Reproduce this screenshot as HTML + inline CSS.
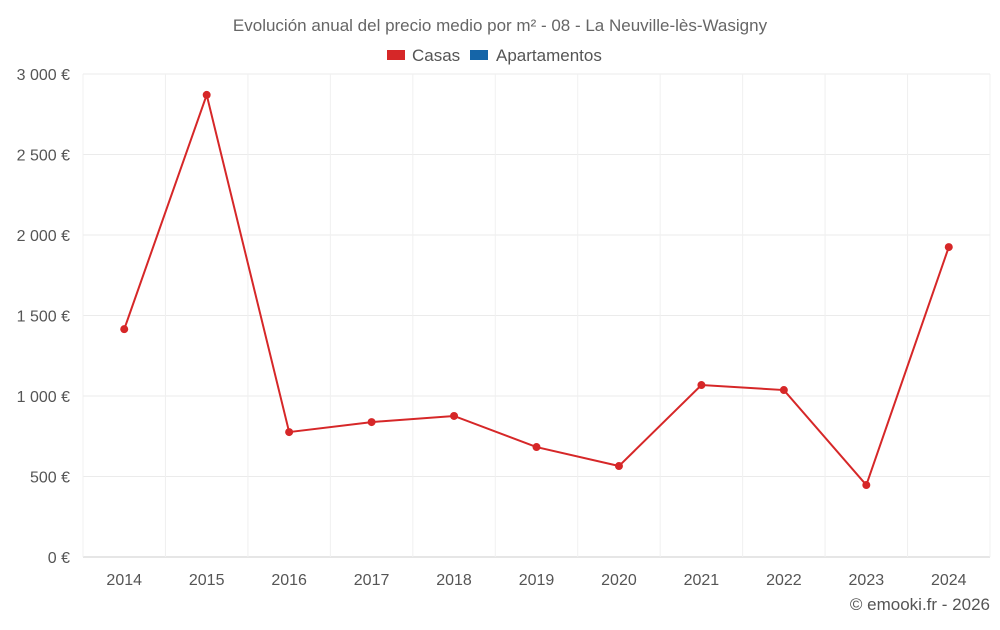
<!DOCTYPE html>
<html><head><meta charset="utf-8"><style>
body{margin:0;background:#fff;font-family:"Liberation Sans",sans-serif}
svg text{font-family:"Liberation Sans",sans-serif}
</style></head><body>
<svg id="chart" width="1000" height="625">
<text x="500" y="31" text-anchor="middle" font-size="17" fill="#666">Evolución anual del precio medio por m² - 08 - La Neuville-lès-Wasigny</text>
<g><rect x="387" y="50" width="18" height="10" fill="#d62728"/><text x="412" y="61" font-size="17" fill="#555">Casas</text></g>
<g><rect x="470" y="50" width="18" height="10" fill="#1565a8"/><text x="496" y="61" font-size="17" fill="#555">Apartamentos</text></g>
<text x="990" y="610" text-anchor="end" font-size="17" fill="#555">© emooki.fr - 2026</text>
<g id="grid"></g><g id="marks"></g>
</svg>
<script>
const categories=["2014","2015","2016","2017","2018","2019","2020","2021","2022","2023","2024"];
const casas=[1415,2870,776,838,876,683,565,1068,1037,447,1925];
const yTicks=[0,500,1000,1500,2000,2500,3000];
const yTickLabels=["0 €","500 €","1 000 €","1 500 €","2 000 €","2 500 €","3 000 €"];
const L=83,R=990,T=74,B=557,yMax=3000;
const step=(R-L)/categories.length;
const x=i=>L+step*(i+0.5);
const y=v=>B-(v/yMax)*(B-T);
const ns="http://www.w3.org/2000/svg";
const grid=document.getElementById('grid'),marks=document.getElementById('marks');
function mk(tag,attrs,parent){const e=document.createElementNS(ns,tag);for(const k in attrs)e.setAttribute(k,attrs[k]);parent.appendChild(e);return e;}
yTicks.forEach((t,i)=>{
 const l=mk('line',{x1:L,x2:R,y1:y(t),y2:y(t),stroke:i==0?'#ccc':'#ebebeb'},grid);
 
 
 const tx=mk('text',{x:70,y:y(t)+6,'text-anchor':'end','font-size':16,fill:'#555'},grid);
 tx.textContent=yTickLabels[i];
 
 
});
for(let i=0;i<=categories.length;i++){
 const l=mk('line',{x1:L+step*i,x2:L+step*i,y1:T,y2:B,stroke:'#f0f0f0'},grid);
 
 
}
categories.forEach((c,i)=>{
 const tx=mk('text',{x:x(i),y:585,'text-anchor':'middle','font-size':16,fill:'#555'},grid);
 tx.textContent=c;
 
 
});
const pl=mk('polyline',{points:casas.map((v,i)=>x(i)+','+y(v)).join(' '),fill:'none',stroke:'#d62728','stroke-width':2},marks);


casas.forEach((v,i)=>{
 const c=mk('circle',{cx:x(i),cy:y(v),r:4,fill:'#d62728'},marks);
 
 
});
</script>
</body></html>
